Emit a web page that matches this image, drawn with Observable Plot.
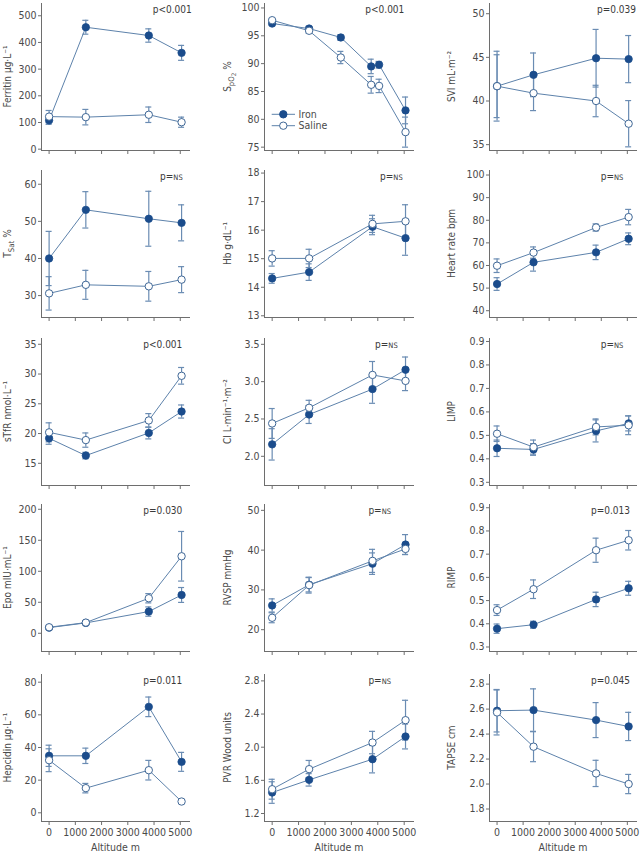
<!DOCTYPE html>
<html>
<head>
<meta charset="utf-8">
<script src="https://cdn.jsdelivr.net/npm/d3@7"></script>
<script src="https://cdn.jsdelivr.net/npm/@observablehq/plot@0.6"></script>
<style>
html, body { margin: 0; padding: 0; background: #fff; }
#chart { position: relative; width: 640px; height: 853px; overflow: hidden; }
#chart svg { position: absolute; overflow: visible; }
</style>
</head>
<body>
<div id="chart"></div>
<script>
// ---------------- DATA (mean, SE) ----------------
const altitudes = [0, 1400, 3800, 5050];
const spo2Altitudes = [0, 1400, 2600, 3750, 4050, 5050];
const xTickValues = [0, 1000, 2000, 3000, 4000, 5000];

const ferritinIron   = [[108, 15], [457, 26], [426, 25], [361, 28]];
const ferritinSaline = [[122, 23], [120, 29], [129, 29], [101, 19]];
const ferritinTicks  = [0, 100, 200, 300, 400, 500];

const spo2Iron   = [[97.2, 0.3], [96.3, 0.4], [94.7, 0.5], [89.5, 1.3], [89.8, 0.6], [81.6, 2.4]];
const spo2Saline = [[97.8, 0.3], [95.9, 0.4], [91.1, 1.1], [86.2, 1.5], [86.0, 1.2], [77.7, 2.7]];
const spo2Ticks  = [75, 80, 85, 90, 95, 100];

const sviIron   = [[41.7, 3.6], [43.0, 2.5], [44.9, 3.3], [44.8, 2.7]];
const sviSaline = [[41.7, 4.0], [40.9, 2.0], [40.0, 1.8], [37.4, 2.65]];
const sviTicks  = [35, 40, 45, 50];

const tsatIron   = [[40.0, 7.3], [53.1, 4.9], [50.7, 7.4], [49.6, 4.85]];
const tsatSaline = [[30.6, 4.5], [32.9, 3.9], [32.5, 4.0], [34.3, 3.5]];
const tsatTicks  = [30, 40, 50, 60];

const hbIron   = [[14.31, 0.17], [14.53, 0.29], [16.12, 0.28], [15.72, 0.6]];
const hbSaline = [[15.01, 0.27], [15.01, 0.32], [16.22, 0.3], [16.31, 0.58]];
const hbTicks  = [13, 14, 15, 16, 17, 18];

const hrIron   = [[51.8, 2.8], [61.4, 3.9], [65.8, 3.2], [71.8, 2.6]];
const hrSaline = [[59.9, 3.0], [65.7, 2.5], [76.8, 1.6], [81.4, 3.4]];
const hrTicks  = [40, 50, 60, 70, 80, 90, 100];

const stfrIron   = [[19.2, 1.0], [16.3, 0.55], [20.1, 1.0], [23.7, 1.1]];
const stfrSaline = [[20.2, 1.6], [18.9, 1.2], [22.2, 1.15], [29.7, 1.4]];
const stfrTicks  = [15, 20, 25, 30, 35];

const ciIron   = [[2.16, 0.21], [2.56, 0.12], [2.90, 0.19], [3.16, 0.17]];
const ciSaline = [[2.44, 0.2], [2.65, 0.1], [3.09, 0.18], [3.01, 0.13]];
const ciTicks  = [2.0, 2.5, 3.0, 3.5];

const limpIron   = [[0.445, 0.035], [0.44, 0.025], [0.519, 0.047], [0.551, 0.032]];
const limpSaline = [[0.507, 0.033], [0.45, 0.03], [0.536, 0.034], [0.543, 0.04]];
const limpTicks  = [0.3, 0.4, 0.5, 0.6, 0.7, 0.8, 0.9];

const epoIron   = [[9.1, 1.5], [16.7, 2], [35, 7.5], [61.8, 12]];
const epoSaline = [[9.7, 1.5], [17.2, 3], [56.5, 7.5], [124.2, 40]];
const epoTicks  = [0, 50, 100, 150, 200];

const rvspIron   = [[26.1, 1.65], [31.3, 1.8], [36.6, 2.7], [41.4, 2.5]];
const rvspSaline = [[23.0, 1.25], [31.2, 2.0], [37.3, 2.9], [40.3, 1.4]];
const rvspTicks  = [20, 30, 40, 50];

const rimpIron   = [[0.379, 0.02], [0.396, 0.015], [0.505, 0.031], [0.553, 0.03]];
const rimpSaline = [[0.459, 0.023], [0.549, 0.04], [0.717, 0.052], [0.76, 0.042]];
const rimpTicks  = [0.3, 0.4, 0.5, 0.6, 0.7, 0.8, 0.9];

const hepcidinIron   = [[34.9, 6.5], [34.9, 4.7], [64.9, 6], [31.2, 5.8]];
const hepcidinSaline = [[32.2, 7], [15.1, 2.9], [26.1, 6], [6.9, 1]];
const hepcidinTicks  = [0, 20, 40, 60, 80];

const pvrIron   = [[1.453, 0.13], [1.606, 0.075], [1.855, 0.165], [2.129, 0.15]];
const pvrSaline = [[1.493, 0.12], [1.735, 0.105], [2.056, 0.135], [2.326, 0.24]];
const pvrTicks  = [1.2, 1.6, 2.0, 2.4, 2.8];

const tapseIron   = [[2.587, 0.17], [2.592, 0.17], [2.512, 0.14], [2.461, 0.113]];
const tapseSaline = [[2.573, 0.18], [2.299, 0.12], [2.085, 0.105], [2.0, 0.077]];
const tapseTicks  = [1.8, 2.0, 2.2, 2.4, 2.6, 2.8];

const yLabels = [
  [["Ferritin µg·L⁻¹", 0]],
  [["S", 0], ["pO", 1], ["2", 2], [" %", 0]],
  [["SVI mL·m⁻²", 0]],
  [["T", 0], ["Sat", 1], [" %", 0]],
  [["Hb g·dL⁻¹", 0]],
  [["Heart rate bpm", 0]],
  [["sTfR nmol·L⁻¹", 0]],
  [["CI L·min⁻¹·m⁻²", 0]],
  [["LIMP", 0]],
  [["Epo mIU·mL⁻¹", 0]],
  [["RVSP mmHg", 0]],
  [["RIMP", 0]],
  [["Hepcidin µg·L⁻¹", 0]],
  [["PVR Wood units", 0]],
  [["TAPSE cm", 0]]
];
const pValues = ["p<0.001", "p<0.001", "p=0.039", "p=NS", "p=NS", "p=NS", "p<0.001", "p=NS", "p=NS",
                 "p=0.030", "p=NS", "p=0.013", "p=0.011", "p=NS", "p=0.045"];
const groupNames = ["Iron", "Saline"];
const xLabel = "Altitude m";

// ---------------- LAYOUT / STYLE ----------------
const FONT = '"Liberation Sans Narrow", "DejaVu Sans Condensed", "Roboto Condensed", Roboto, sans-serif';
const IRON_FILL = "#1b4c8c";
const LINE = "#5d82ab";
const ERR = "#6a8cb3";
const TEXT = "#4a4a4a";
const AXIS = "#6e6e6e";

const cols = [
  {left: 0, width: 215, ml: 41, mr: 25, lab: 30},
  {left: 215, width: 215, ml: 49, mr: 16, lab: 33},
  {left: 430, width: 210, ml: 59, mr: 3, lab: 34}
];
const rows = [
  {top: 3, bottom: 150},
  {top: 169.7, bottom: 316.7},
  {top: 337.5, bottom: 484.5},
  {top: 503.5, bottom: 650.5},
  {top: 673.7, bottom: 820.7}
];
const xDomain = [-290, 5390];
const f1 = d3.format(".1f");

const panels = [
  {alts: altitudes, iron: ferritinIron, saline: ferritinSaline, ticks: ferritinTicks, domain: [-5, 546], pdx: 1.7},
  {alts: spo2Altitudes, iron: spo2Iron, saline: spo2Saline, ticks: spo2Ticks, domain: [74.4, 100.8], pdx: -9.7},
  {alts: altitudes, iron: sviIron, saline: sviSaline, ticks: sviTicks, domain: [34.33, 51.17], pdx: -1},
  {alts: altitudes, iron: tsatIron, saline: tsatSaline, ticks: tsatTicks, domain: [24.1, 63.7], pdx: -7.3},
  {alts: altitudes, iron: hbIron, saline: hbSaline, ticks: hbTicks, domain: [12.94, 18.09], pdx: -11.3},
  {alts: altitudes, iron: hrIron, saline: hrSaline, ticks: hrTicks, domain: [37.0, 102.0], pdx: -13.7},
  {alts: altitudes, iron: stfrIron, saline: stfrSaline, ticks: stfrTicks, domain: [11.27, 35.97], pdx: -7.7},
  {alts: altitudes, iron: ciIron, saline: ciSaline, ticks: ciTicks, domain: [1.609, 3.578], pdx: -16.3, format: f1},
  {alts: altitudes, iron: limpIron, saline: limpSaline, ticks: limpTicks, domain: [0.2864, 0.9127], pdx: -13.7, format: f1},
  {alts: altitudes, iron: epoIron, saline: epoSaline, ticks: epoTicks, domain: [-29.4, 207.7], pdx: -7.7},
  {alts: altitudes, iron: rvspIron, saline: rvspSaline, ticks: rvspTicks, domain: [14.52, 51.47], pdx: -23},
  {alts: altitudes, iron: rimpIron, saline: rimpSaline, ticks: rimpTicks, domain: [0.2806, 0.914], pdx: -7, format: f1},
  {alts: altitudes, iron: hepcidinIron, saline: hepcidinSaline, ticks: hepcidinTicks, domain: [-5.33, 84.7], pdx: -7.7},
  {alts: altitudes, iron: pvrIron, saline: pvrSaline, ticks: pvrTicks, domain: [1.1035, 2.877], pdx: -23, format: f1},
  {alts: altitudes, iron: tapseIron, saline: tapseSaline, ticks: tapseTicks, domain: [1.70, 2.877], pdx: -7, format: f1}
];

const chart = document.getElementById("chart");
const CAP = 115; // half cap width in altitude units
const levelSize = [10, 7.8, 6.3];
const levelShift = [0, 2.8, 5.2];

panels.forEach((p, i) => {
  const ri = Math.floor(i / 3), ci = i % 3;
  const r = rows[ri], c = cols[ci];
  const isBottom = ri === 4;
  const mt = 4, mb = isBottom ? 34 : 10;
  const plotH = r.bottom - r.top;
  const height = plotH + mt + mb;
  const data = [];
  [p.iron, p.saline].forEach((vals, g) => {
    p.alts.forEach((a, k) => data.push({group: groupNames[g], alt: a, mean: vals[k][0], se: vals[k][1]}));
  });
  const iron = data.filter(d => d.group === "Iron");
  const saline = data.filter(d => d.group === "Saline");

  const svg = Plot.plot({
    width: c.width, height,
    marginLeft: c.ml, marginRight: c.mr, marginTop: mt, marginBottom: mb,
    style: {fontFamily: FONT, fontSize: "10.5px", color: TEXT, background: "transparent", overflow: "visible"},
    x: {domain: xDomain},
    y: {domain: p.domain},
    marks: [
      Plot.ruleX(data, {x: "alt", y1: d => d.mean - d.se, y2: d => d.mean + d.se, stroke: ERR, strokeWidth: 1.2}),
      Plot.ruleY(data, {y: d => d.mean + d.se, x1: d => d.alt - CAP, x2: d => d.alt + CAP, stroke: ERR, strokeWidth: 1.2}),
      Plot.ruleY(data, {y: d => d.mean - d.se, x1: d => d.alt - CAP, x2: d => d.alt + CAP, stroke: ERR, strokeWidth: 1.2}),
      Plot.line(data, {x: "alt", y: "mean", z: "group", stroke: LINE, strokeWidth: 1}),
      Plot.dot(iron, {x: "alt", y: "mean", r: 3.7, fill: IRON_FILL, stroke: IRON_FILL, strokeWidth: 0.8}),
      Plot.dot(saline, {x: "alt", y: "mean", r: 3.7, fill: "white", stroke: "#3f6796", strokeWidth: 1}),
      Plot.axisY({ticks: p.ticks, tickSize: 3, tickPadding: 2, tickFormat: p.format || d3.format("d"),
                  label: null, stroke: AXIS, fill: TEXT}),
      Plot.axisX({ticks: xTickValues, tickSize: 4, tickPadding: 3,
                  tickFormat: isBottom ? d3.format("d") : () => "", label: null, stroke: AXIS, fill: TEXT}),
      Plot.ruleX([xDomain[0]], {stroke: AXIS, strokeWidth: 1}),
      Plot.ruleY([p.domain[0]], {stroke: AXIS, strokeWidth: 1})
    ]
  });
  svg.style.left = c.left + "px";
  svg.style.top = (r.top - mt) + "px";
  chart.appendChild(svg);

  const s = d3.select(svg);
  // y-axis label (rotated, with subscripts)
  const lx = c.ml - c.lab, ly = mt + plotH / 2;
  const t = s.append("text")
    .attr("transform", `translate(${lx},${ly}) rotate(-90)`)
    .attr("text-anchor", "middle")
    .attr("dy", "0.35em")
    .attr("fill", TEXT)
    .style("font-family", FONT)
    .style("font-size", "10px");
  let prev = 0;
  yLabels[i].forEach(([txt, lvl]) => {
    t.append("tspan")
      .attr("dy", levelShift[lvl] - levelShift[prev])
      .style("font-size", levelSize[lvl] + "px")
      .text(txt);
    prev = lvl;
  });

  // p value
  const pv = pValues[i];
  const pt = s.append("text")
    .attr("x", c.width - c.mr + p.pdx)
    .attr("y", mt + 6)
    .attr("dy", "0.35em")
    .attr("text-anchor", "end")
    .attr("fill", "#3a3a3a")
    .style("font-family", FONT)
    .style("font-size", "10px");
  if (pv.endsWith("NS")) {
    pt.append("tspan").text(pv.slice(0, -2));
    pt.append("tspan").style("font-size", "7.5px").text("NS");
  } else {
    pt.text(pv);
  }

  // x label on bottom row
  if (isBottom) {
    s.append("text")
      .attr("x", c.ml + (c.width - c.ml - c.mr) / 2)
      .attr("y", mt + plotH + 26)
      .attr("dy", "0.35em")
      .attr("text-anchor", "middle")
      .attr("fill", TEXT)
      .style("font-family", FONT)
      .style("font-size", "10.5px")
      .text(xLabel);
  }
});

// legend (in the SpO2 panel)
const leg = d3.select(chart).append("svg")
  .attr("width", 80).attr("height", 30)
  .style("left", "268px").style("top", "106px");
groupNames.forEach((g, k) => {
  const y = 8.3 + k * 11.4;
  leg.append("line").attr("x1", 3.7).attr("x2", 27).attr("y1", y).attr("y2", y).attr("stroke", LINE);
  leg.append("circle").attr("cx", 15.3).attr("cy", y).attr("r", 3.7)
    .attr("fill", k === 0 ? IRON_FILL : "white").attr("stroke", k === 0 ? IRON_FILL : "#3f6796");
  leg.append("text").attr("x", 30.5).attr("y", y).attr("dy", "0.35em")
    .attr("fill", TEXT).style("font-family", FONT).style("font-size", "10.5px").text(g);
});
</script>
</body>
</html>
